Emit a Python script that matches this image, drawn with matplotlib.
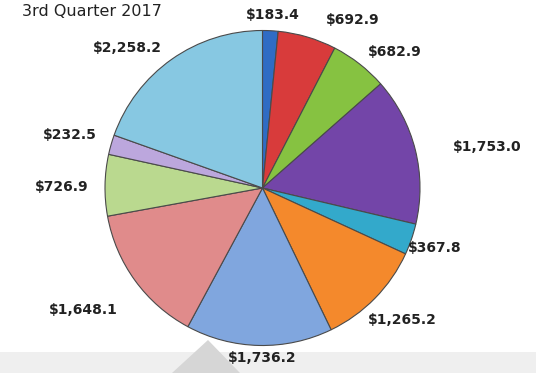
import matplotlib
matplotlib.use("Agg")
import matplotlib.pyplot as plt
from matplotlib.patches import Polygon, Rectangle

# Quarterly amounts per segment, clockwise from 12 o'clock
values = [183.4, 692.9, 682.9, 1753.0, 367.8, 1265.2, 1736.2, 1648.1, 726.9, 232.5, 2258.2]
colors = ["#2F6CC4", "#D83B3B", "#86C241", "#7345A8", "#33A9CB", "#F4892C",
          "#80A6DE", "#E08B8B", "#BAD98F", "#BCA7DD", "#87C8E2"]
title_text = "3rd Quarter 2017"

# where each value label sits (pie radius = 1)
label_pos = [(0.066, 1.10), (0.575, 1.067), (0.838, 0.864), (1.425, 0.260),
             (1.095, -0.381), (0.886, -0.838), (-0.003, -1.080), (-1.140, -0.775),
             (-1.273, 0.006), (-1.222, 0.337), (-0.860, 0.889)]

W, H = 536, 373
fig = plt.figure(figsize=(W / 100, H / 100), dpi=100)
fig.patch.set_facecolor("white")

# light grey strip and wedge shape at the bottom of the slide
fig.patches.append(Rectangle((0, 0), 1, 21 / H, transform=fig.transFigure,
                             facecolor="#EFEFEF", edgecolor="none", zorder=-2))
fig.patches.append(Polygon([(208 / W, 1 - 340 / H), (172 / W, 0), (240 / W, 0)],
                           closed=True, transform=fig.transFigure,
                           facecolor="#D6D6D6", edgecolor="none", zorder=-1))

cx, cy, r = 262.5, 188, 157.5
ax = fig.add_axes([(cx - r) / W, 1 - (cy + r) / H, 2 * r / W, 2 * r / H])
ax.set_facecolor("none")

wedges, _ = ax.pie(values, colors=colors, startangle=90, counterclock=False,
                   radius=1, wedgeprops=dict(edgecolor="#4A4A4A", linewidth=0.8))
ax.set_xlim(-1, 1)
ax.set_ylim(-1, 1)
ax.set_aspect("equal")
ax.axis("off")

for v, (x, y) in zip(values, label_pos):
    ax.text(x, y, f"${v:,.1f}", ha="center", va="center", fontsize=10,
            fontweight="bold", color="#222222", clip_on=False)

fig.text(92 / W, 1 - 12 / H, title_text, ha="center", va="center",
         fontsize=11.5, color="#222222")

fig.savefig("out.png", dpi=100)
